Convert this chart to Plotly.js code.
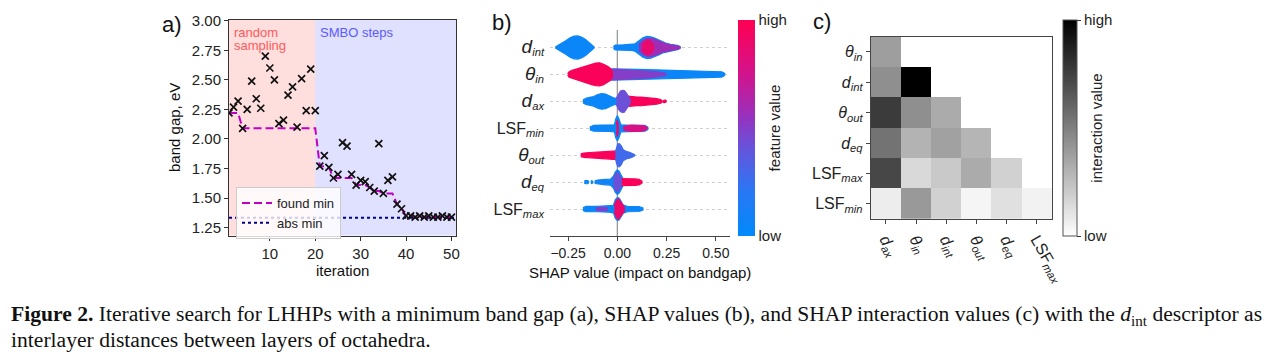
<!DOCTYPE html>
<html><head><meta charset="utf-8">
<script src="https://cdn.plot.ly/plotly-3.0.1.min.js"></script>
<style>html,body{margin:0;padding:0;background:#fff;} #chart{width:1274px;height:355px;}</style>
</head><body><div id="chart"></div>
<script>
// ---------- Panel a: iterative search ----------
const iterations = [1,2,3,4,5,6,7,8,9,10,11,12,13,14,15,16,17,18,19,20,21,22,23,24,25,26,27,28,29,30,31,32,33,34,35,36,37,38,39,40,41,42,43,44,45,46,47,48,49,50];
const bandGap = [2.22,2.27,2.32,2.09,2.25,2.49,2.34,2.26,2.70,2.60,2.50,2.13,2.16,2.37,2.44,2.10,2.51,2.24,2.59,2.24,
                 1.77,1.86,1.76,1.67,1.70,1.97,1.94,1.70,1.61,1.65,1.64,1.59,1.56,1.96,1.54,1.65,1.68,1.45,1.41,1.35,
                 1.35,1.34,1.35,1.34,1.35,1.34,1.34,1.35,1.34,1.34];
const foundMin = [2.22,2.22,2.22,2.09,2.09,2.09,2.09,2.09,2.09,2.09,2.09,2.09,2.09,2.09,2.09,2.09,2.09,2.09,2.09,2.09,
                  1.77,1.77,1.76,1.67,1.67,1.67,1.67,1.67,1.61,1.61,1.61,1.59,1.56,1.56,1.54,1.54,1.54,1.45,1.41,1.35,
                  1.35,1.34,1.34,1.34,1.34,1.34,1.34,1.34,1.34,1.34];
const absMinValue = 1.335;
const absMinX = [1, 51];
const phaseLabelLines = [['random','sampling'], ['SMBO steps']];
const phaseStart = [1, 20];
const phaseEnd = [20, 51];

// ---------- Panel b: SHAP beeswarm (x = SHAP value, h = half spread, c = feature value) ----------
const BIG = (s)=>'<span style="font-size:19px"><i>'+s+'</i></span>';
const shapFeatureLabels = ['LSF<sub><i>max</i></sub>', BIG('d')+'<sub><i>eq</i></sub>', BIG('θ')+'<sub><i>out</i></sub>',
  'LSF<sub><i>min</i></sub>', BIG('d')+'<sub><i>ax</i></sub>', BIG('θ')+'<sub><i>in</i></sub>', BIG('d')+'<sub><i>int</i></sub>'];
const shapTicks = [-0.25, 0, 0.25, 0.5];
const shapTickLabels = ['−0.25','0.00','0.25','0.50'];

const swarmLSFmax = [
  {c:0.05, x:[-0.175,-0.16,-0.10,-0.05,-0.02,-0.01,0.0,0.01,0.02,0.03,0.05,0.08,0.11,0.13], h:[0.05,0.10,0.10,0.11,0.14,0.35,0.43,0.40,0.28,0.15,0.10,0.10,0.09,0.04]},
  {c:0.5,  x:[-0.11,-0.08,-0.05], h:[0.04,0.07,0.04]},
  {c:0.9,  x:[-0.015,-0.005,0.005,0.015,0.025,0.035], h:[0.12,0.32,0.38,0.30,0.18,0.08]}
];
const swarmDeq = [
  {c:0.05, x:[-0.168,-0.162,-0.152,-0.146], h:[0.04,0.06,0.06,0.03]},
  {c:0.05, x:[-0.135,-0.13,-0.125], h:[0.03,0.05,0.03]},
  {c:0.08, x:[-0.115,-0.10,-0.06,-0.035,-0.02,-0.01,0.0,0.01,0.02,0.03], h:[0.05,0.08,0.10,0.11,0.22,0.38,0.46,0.40,0.25,0.12]},
  {c:0.97, x:[0.01,0.03,0.06,0.09,0.11,0.125], h:[0.13,0.13,0.13,0.12,0.10,0.04]},
  {c:0.42, x:[-0.02,-0.01,0.0,0.01,0.02], h:[0.12,0.28,0.36,0.28,0.12]}
];
const swarmThetaOut = [
  {c:0.97, x:[-0.186,-0.17,-0.14,-0.10,-0.06,-0.03,-0.005], h:[0.05,0.08,0.10,0.12,0.14,0.15,0.16]},
  {c:0.28, x:[-0.01,-0.004,0.002,0.01,0.02,0.03,0.045,0.065,0.08,0.088], h:[0.12,0.30,0.42,0.43,0.35,0.20,0.14,0.10,0.06,0.02]}
];
const swarmLSFmin = [
  {c:0.05, x:[-0.14,-0.12,-0.08,-0.04,-0.015,-0.008,0.0,0.008,0.018,0.05,0.10,0.14,0.155], h:[0.05,0.11,0.12,0.12,0.13,0.35,0.47,0.35,0.13,0.12,0.12,0.11,0.04]},
  {c:0.78, x:[0.03,0.05,0.07,0.09,0.11,0.13,0.15], h:[0.05,0.10,0.12,0.11,0.12,0.10,0.05]},
  {c:0.95, x:[-0.004,0.0,0.004], h:[0.15,0.30,0.15]}
];
const swarmDax = [
  {c:0.05, x:[-0.175,-0.16,-0.14,-0.12,-0.10,-0.08,-0.06,-0.04,-0.02,0.0], h:[0.05,0.11,0.15,0.18,0.25,0.29,0.27,0.19,0.13,0.11]},
  {c:0.97, x:[0.04,0.06,0.08,0.10,0.12,0.14,0.16,0.18,0.20,0.22,0.228], h:[0.20,0.18,0.17,0.16,0.16,0.15,0.13,0.12,0.10,0.07,0.02]},
  {c:0.97, x:[0.232,0.236,0.24,0.244,0.248], h:[0.02,0.045,0.05,0.045,0.02]},
  {c:0.42, x:[-0.005,0.005,0.015,0.025,0.035,0.045,0.055,0.065], h:[0.12,0.28,0.38,0.41,0.40,0.32,0.20,0.08]}
];
const swarmThetaIn = [
  {c:0.05, x:[-0.03,0.0,0.05,0.10,0.15,0.20,0.25,0.30,0.35,0.40,0.45,0.50,0.53,0.545], h:[0.21,0.21,0.20,0.19,0.18,0.17,0.16,0.15,0.14,0.13,0.12,0.11,0.10,0.04]},
  {c:0.5,  x:[-0.06,-0.03,0.0,0.05,0.10,0.15,0.20,0.24,0.25], h:[0.26,0.20,0.19,0.17,0.16,0.14,0.10,0.05,0.01]},
  {c:0.97, x:[-0.252,-0.245,-0.23,-0.21,-0.19,-0.17,-0.15,-0.13,-0.11,-0.09,-0.07,-0.05,-0.035,-0.025], h:[0.03,0.10,0.15,0.20,0.25,0.29,0.33,0.38,0.42,0.43,0.38,0.30,0.22,0.10]}
];
const swarmDint = [
  {c:0.05, x:[-0.315,-0.30,-0.28,-0.26,-0.24,-0.22,-0.20,-0.18,-0.16,-0.14,-0.125,-0.118], h:[0.02,0.08,0.16,0.26,0.36,0.42,0.43,0.38,0.29,0.17,0.07,0.02]},
  {c:0.05, x:[-0.02,-0.01,0.03,0.07,0.09,0.11,0.13,0.15,0.17,0.19,0.21,0.23,0.25,0.27,0.29,0.31,0.32], h:[0.04,0.09,0.10,0.11,0.14,0.25,0.36,0.41,0.40,0.35,0.28,0.20,0.15,0.12,0.10,0.07,0.02]},
  {c:0.58, x:[0.11,0.13,0.15,0.17,0.19,0.21,0.23,0.25,0.27,0.29,0.31,0.318], h:[0.12,0.26,0.33,0.34,0.30,0.24,0.17,0.13,0.10,0.08,0.05,0.02]},
  {c:0.88, x:[0.125,0.14,0.155,0.17,0.185], h:[0.08,0.22,0.28,0.22,0.08]}
];
const swarmRows = [swarmLSFmax, swarmDeq, swarmThetaOut, swarmLSFmin, swarmDax, swarmThetaIn, swarmDint];

// ---------- Panel c: SHAP interaction values ----------
const interColLabels = ['<i>d</i><sub><i>ax</i></sub>','<i>θ</i><sub><i>in</i></sub>','<i>d</i><sub><i>int</i></sub>',
  '<i>θ</i><sub><i>out</i></sub>','<i>d</i><sub><i>eq</i></sub>','LSF<sub><i>max</i></sub>'];
const interRowLabels = ['<i>θ</i><sub><i>in</i></sub>','<i>d</i><sub><i>int</i></sub>','<i>θ</i><sub><i>out</i></sub>',
  '<i>d</i><sub><i>eq</i></sub>','LSF<sub><i>max</i></sub>','LSF<sub><i>min</i></sub>'];
const interValues = [
  [0.38, null, null, null, null, null],
  [0.44, 1.00, null, null, null, null],
  [0.77, 0.44, 0.33, null, null, null],
  [0.55, 0.30, 0.37, 0.29, null, null],
  [0.72, 0.15, 0.21, 0.33, 0.18, null],
  [0.07, 0.40, 0.18, 0.04, 0.12, 0.05]
];

// ---------- drawing ----------
const shapScale = [[0,[0,138,250]],[0.2,[40,120,245]],[0.4,[100,85,220]],[0.55,[150,50,190]],[0.75,[210,20,140]],[1,[255,0,82]]];
function shapColor(v){
  for(let i=1;i<shapScale.length;i++){
    if(v<=shapScale[i][0]){
      const [a0,c0]=shapScale[i-1],[a1,c1]=shapScale[i];
      const t=(v-a0)/(a1-a0);
      return 'rgb('+c0.map((c,k)=>Math.round(c+(c1[k]-c)*t)).join(',')+')';
    }
  }
  return 'rgb(255,0,82)';
}
const shapColorscale = shapScale.map(s=>[s[0],'rgb('+s[1].join(',')+')']);

const FONT = 'Liberation Sans, Arial, sans-serif';
const SERIF = 'Liberation Serif, Times New Roman, serif';
const traces = [];

traces.push({x: absMinX, y: absMinX.map(()=>absMinValue), type:'scatter', mode:'lines', name:'abs min',
  line:{color:'#00008b', width:2, dash:'dot'}, xaxis:'x', yaxis:'y', hoverinfo:'skip'});
traces.push({x: iterations, y: foundMin, type:'scatter', mode:'lines', name:'found min',
  line:{color:'#c000c0', width:2, dash:'8px,4px'}, xaxis:'x', yaxis:'y'});
traces.push({x: iterations, y: bandGap, type:'scatter', mode:'markers', name:'band gap', showlegend:false,
  marker:{symbol:'x-thin', size:7, line:{width:1.7, color:'#111'}}, xaxis:'x', yaxis:'y'});

swarmRows.forEach((layers, r)=>{
  layers.forEach(L=>{
    const col = shapColor(L.c);
    const xs = L.x.concat(L.x.slice().reverse());
    const ys = L.h.map(h=>r+h).concat(L.h.slice().reverse().map(h=>r-h));
    traces.push({x:xs, y:ys, type:'scatter', mode:'lines', fill:'toself', fillcolor:col,
      line:{color:col, width:1.2}, xaxis:'x2', yaxis:'y2', showlegend:false, hoverinfo:'skip'});
  });
});
traces.push({x:[0,0], y:[-10,-10], type:'scatter', mode:'markers', xaxis:'x2', yaxis:'y2', showlegend:false, hoverinfo:'skip',
  marker:{size:1, color:[0,1], cmin:0, cmax:1, colorscale:shapColorscale, showscale:true,
    colorbar:{x:738/1274, xanchor:'left', xpad:0, y:1-128/355, yanchor:'middle', ypad:0, lenmode:'pixels', len:216,
      thickness:17, outlinewidth:0, tickvals:[0,1], ticktext:['low','high'], ticks:'', tickfont:{size:15, color:'#222'},
      title:{text:'feature value', side:'right', font:{size:15, color:'#222'}}}}});

traces.push({type:'heatmap', z: interValues, x:[0,1,2,3,4,5], y:[0,1,2,3,4,5], xaxis:'x3', yaxis:'y3',
  zmin:0, zmax:1, colorscale:[[0,'rgb(255,255,255)'],[1,'rgb(0,0,0)']], hoverongaps:false,
  colorbar:{x:1063/1274, xanchor:'left', xpad:0, y:1-128/355, yanchor:'middle', ypad:0, lenmode:'pixels', len:216,
    thickness:14, outlinecolor:'#555', outlinewidth:1, tickvals:[0,1], ticktext:['low','high'], ticks:'outside', ticklen:4,
    tickcolor:'#333', tickfont:{size:15, color:'#222'},
    title:{text:'interaction value', side:'right', font:{size:15, color:'#222'}}}});

const P = (X)=>X/1274, Q = (Y)=>1-Y/355;
function txt(text, X, Y, size, extra){
  return Object.assign({text:text, xref:'paper', yref:'paper', x:P(X), y:Q(Y), xanchor:'center', yanchor:'middle',
    showarrow:false, font:{size:size, color:'#111'}}, extra||{});
}
const layout = {
  width:1274, height:355, margin:{l:0,r:0,t:0,b:0}, autosize:false,
  paper_bgcolor:'#fff', plot_bgcolor:'rgba(0,0,0,0)',
  font:{family:FONT, color:'#222'},
  showlegend:true,
  legend:{x:P(236), y:Q(187), xanchor:'left', yanchor:'top', bgcolor:'rgba(255,255,255,0.8)', bordercolor:'#ccc', borderwidth:1,
    font:{size:13, color:'#222'}, traceorder:'reversed', tracegroupgap:0},
  xaxis:{domain:[P(229),P(456)], range:[1,51], anchor:'y', showline:true, mirror:true, linecolor:'#333', linewidth:1,
    ticks:'outside', ticklen:4, tickcolor:'#333', tickvals:[10,20,30,40,50], tickfont:{size:15}, showgrid:false, zeroline:false},
  yaxis:{domain:[Q(235.5),Q(20)], range:[1.184,3.006], anchor:'x', showline:true, mirror:true, linecolor:'#333', linewidth:1,
    ticks:'outside', ticklen:4, tickcolor:'#333', tickvals:[1.25,1.5,1.75,2.0,2.25,2.5,2.75,3.0], tickformat:'.2f', tickfont:{size:15},
    showgrid:false, zeroline:false},
  xaxis2:{domain:[P(550),P(730)], range:[-0.342,0.572], anchor:'y2', showline:true, linecolor:'#444', linewidth:1,
    ticks:'outside', ticklen:4, tickcolor:'#444', tickvals:shapTicks, ticktext:shapTickLabels, tickfont:{size:14},
    showgrid:false, zeroline:false},
  yaxis2:{domain:[Q(236),Q(30)], range:[-1.0,6.65], anchor:'x2', showline:false, ticks:'', tickvals:[0,1,2,3,4,5,6],
    ticktext:shapFeatureLabels, tickfont:{size:16, color:'#222'}, ticklabelstandoff:5,
    showgrid:true, gridcolor:'#cfcfcf', griddash:'dot', gridwidth:1, zeroline:false},
  xaxis3:{domain:[P(870.7),P(1052)], range:[-0.5,5.5], anchor:'y3', showline:true, mirror:true, linecolor:'#444', linewidth:1,
    ticks:'outside', ticklen:4, tickcolor:'#444', tickvals:[0,1,2,3,4,5], ticktext:interColLabels, tickangle:60,
    tickfont:{size:16}, showgrid:false, zeroline:false},
  yaxis3:{domain:[Q(219),Q(36.7)], range:[5.5,-0.5], anchor:'x3', showline:true, mirror:true, linecolor:'#444', linewidth:1,
    ticks:'outside', ticklen:4, tickcolor:'#444', tickvals:[0,1,2,3,4,5], ticktext:interRowLabels,
    tickfont:{size:16}, showgrid:false, zeroline:false},
  shapes:[
    {type:'rect', xref:'x', yref:'y domain', x0:phaseStart[0], x1:phaseEnd[0], y0:0, y1:1, fillcolor:'rgba(255,0,0,0.13)', line:{width:0}, layer:'below'},
    {type:'rect', xref:'x', yref:'y domain', x0:phaseStart[1], x1:phaseEnd[1], y0:0, y1:1, fillcolor:'rgba(0,0,255,0.12)', line:{width:0}, layer:'below'},
    {type:'line', xref:'x2', yref:'y2 domain', x0:0, x1:0, y0:0, y1:1, line:{color:'#999', width:1.3}, layer:'below'}
  ],
  annotations:[
    txt('a)', 172, 24, 22),
    txt('b)', 502, 22, 22),
    txt('c)', 822, 21, 22),
    {text:phaseLabelLines[0][0], xref:'x', yref:'paper', x:phaseStart[0], xshift:3, y:Q(23), xanchor:'left', yanchor:'top',
      showarrow:false, font:{size:13, color:'#ff5a5a'}},
    {text:phaseLabelLines[0][1], xref:'x', yref:'paper', x:phaseStart[0], xshift:3, y:Q(36), xanchor:'left', yanchor:'top',
      showarrow:false, font:{size:13, color:'#ff5a5a'}},
    {text:phaseLabelLines[1][0], xref:'x', yref:'paper', x:phaseStart[1], xshift:3, y:Q(23), xanchor:'left', yanchor:'top',
      showarrow:false, font:{size:13, color:'#5a5aff'}},
    txt('band gap, eV', 175, 128, 15, {textangle:-90}),
    txt('iteration', 342, 270, 15),
    txt('SHAP value (impact on bandgap)', 640, 272, 15),
    txt('<b>Figure 2.</b> Iterative search for LHHPs with a minimum band gap (a), SHAP values (b), and SHAP interaction values (c) with the <i>d</i><sub>int</sub> descriptor as',
      9, 315, 21.6, {xanchor:'left', font:{family:SERIF, size:21.6, color:'#111'}}),
    txt('interlayer distances between layers of octahedra.', 9, 340, 21.6, {xanchor:'left', font:{family:SERIF, size:21.6, color:'#111'}})
  ]
};
Plotly.newPlot('chart', traces, layout, {displayModeBar:false, staticPlot:true});
</script></body></html>
